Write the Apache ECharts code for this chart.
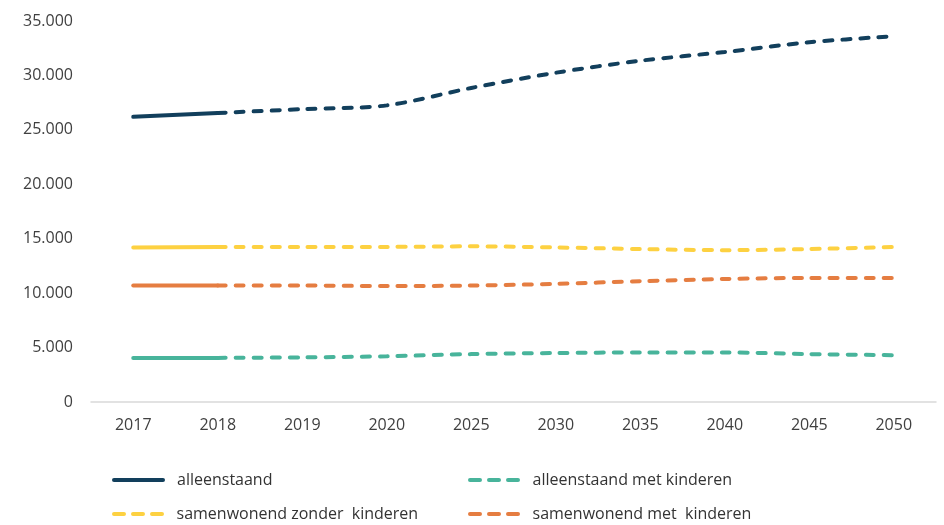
<!DOCTYPE html>
<html><head><meta charset="utf-8">
<script src="https://cdn.jsdelivr.net/npm/echarts@6/dist/echarts.min.js"></script>
<style>html,body{margin:0;padding:0;background:#fff}#c{width:944px;height:525px}</style>
</head><body><div id="c"></div>
<script>
const categories = ['2017','2018','2019','2020','2025','2030','2035','2040','2045','2050'];
const alleenstaand = [26200, 26550, 26900, 27250, 28850, 30250, 31350, 32150, 33050, 33600];
const alleenstaandMetKinderen = [4050, 4050, 4100, 4200, 4400, 4500, 4550, 4550, 4400, 4300];
const samenwonendZonder = [14200, 14250, 14250, 14250, 14300, 14200, 14050, 13950, 14050, 14250];
const samenwonendMet = [10700, 10700, 10700, 10650, 10700, 10850, 11100, 11300, 11400, 11400];
const yTicks = [0, 5000, 10000, 15000, 20000, 25000, 30000, 35000];

const names = ['alleenstaand','alleenstaand met kinderen','samenwonend zonder  kinderen','samenwonend met  kinderen'];
const colors = ['#123f5c','#48b49b','#fdd141','#e57d41'];
const datas = [alleenstaand, alleenstaandMetKinderen, samenwonendZonder, samenwonendMet];
const dash = [8, 10];

const series = [];
datas.forEach((d, i) => {
  const solid = d.map((v, j) => j <= 1 ? v : null);
  const dashed = d.map((v, j) => j >= 1 ? v : null);
  series.push({
    name: names[i], type: 'line', data: solid, symbol: 'none', smooth: 0.3,
    lineStyle: {color: colors[i], width: 4, cap: 'round'}, itemStyle: {color: colors[i]}, z: 3
  });
  series.push({
    name: names[i], type: 'line', data: dashed, symbol: 'none', smooth: 0.3,
    lineStyle: {color: colors[i], width: 4, type: dash, cap: 'round'}, itemStyle: {color: colors[i]}, z: 3
  });
});

const solidIcon = 'path://M2,0 H51 A2,2 0 0 1 51,4 H2 A2,2 0 0 1 2,0 Z';
const dashIcon = 'path://M2,0 H12 A2,2 0 0 1 12,4 H2 A2,2 0 0 1 2,0 Z M21,0 H31 A2,2 0 0 1 31,4 H21 A2,2 0 0 1 21,0 Z M40,0 H50 A2,2 0 0 1 50,4 H40 A2,2 0 0 1 40,0 Z';
const legendPos = [[112, 472], [468, 472], [112, 506], [468, 506]];
const legends = names.map((n, i) => ({
  left: legendPos[i][0], top: legendPos[i][1], padding: 0,
  itemWidth: 53, itemHeight: 4, itemGap: 10,
  textStyle: {color: '#333', fontSize: 16, fontFamily: 'Open Sans', padding: [0, 0, 0, 7]},
  data: [{name: n, icon: i === 0 ? solidIcon : dashIcon,
    itemStyle: {color: colors[i], borderWidth: 0},
    lineStyle: {width: 0, opacity: 0}}],
  selectedMode: false
}));

const chart = echarts.init(document.getElementById('c'), null, {renderer: 'canvas'});
chart.setOption({
  animation: false,
  grid: {left: 91, right: 8, top: 21, bottom: 123, containLabel: false},
  legend: legends,
  xAxis: {
    type: 'category', data: categories, boundaryGap: true,
    axisLine: {show: true, lineStyle: {color: '#d9d9d9', width: 1.5}},
    axisTick: {show: false},
    axisLabel: {color: '#404040', fontSize: 16, fontFamily: 'Open Sans', margin: 15}
  },
  yAxis: {
    type: 'value', min: 0, max: 35000, interval: 5000,
    axisLine: {show: false}, axisTick: {show: false}, splitLine: {show: false},
    axisLabel: {color: '#404040', fontSize: 16, fontFamily: 'Open Sans', margin: 18,
      formatter: v => v === 0 ? '0' : String(v).replace(/\B(?=(\d{3})+(?!\d))/g, '.')}
  },
  series: series
});
</script></body></html>
